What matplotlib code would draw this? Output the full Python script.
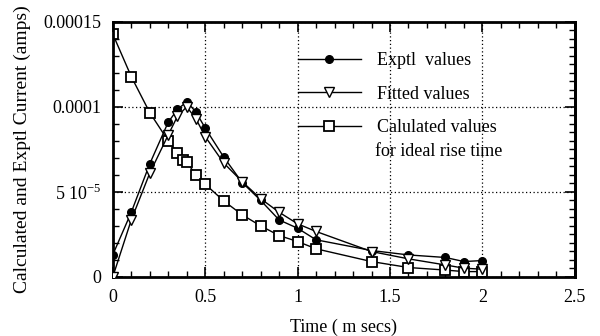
import matplotlib.pyplot as plt
from matplotlib.ticker import MultipleLocator, FixedLocator, FixedFormatter

plt.rcParams['font.family'] = ['Liberation Serif', 'DejaVu Serif']
plt.rcParams['mathtext.fontset'] = 'custom'
plt.rcParams['mathtext.rm'] = 'Liberation Serif'

# time (ms)
t_exptl = [0, 0.1, 0.2, 0.3, 0.35, 0.4, 0.45, 0.5, 0.6, 0.7, 0.8, 0.9, 1.0, 1.1, 1.4, 1.6, 1.8, 1.9, 2.0]
i_exptl = [1.3e-5, 3.8e-5, 6.65e-5, 9.1e-5, 9.85e-5, 1.03e-4, 9.7e-5, 8.75e-5, 7.05e-5, 5.55e-5,
           4.5e-5, 3.35e-5, 2.86e-5, 2.18e-5, 1.55e-5, 1.29e-5, 1.14e-5, 9.0e-6, 9.6e-6]

t_fitted = [0, 0.1, 0.2, 0.3, 0.35, 0.4, 0.45, 0.5, 0.6, 0.7, 0.8, 0.9, 1.0, 1.1, 1.4, 1.6, 1.8, 1.9, 2.0]
i_fitted = [0.0, 3.35e-5, 6.1e-5, 8.35e-5, 9.45e-5, 1.0e-4, 9.3e-5, 8.25e-5, 6.7e-5, 5.6e-5,
            4.6e-5, 3.8e-5, 3.12e-5, 2.67e-5, 1.49e-5, 1.06e-5, 7.0e-6, 5.1e-6, 4.5e-6]

t_calc = [0, 0.1, 0.2, 0.3, 0.35, 0.38, 0.4, 0.45, 0.5, 0.6, 0.7, 0.8, 0.9, 1.0, 1.1, 1.4, 1.6, 1.8, 1.9, 2.0]
i_calc = [1.428e-4, 1.178e-4, 9.66e-5, 8.0e-5, 7.27e-5, 6.9e-5, 6.75e-5, 6.0e-5, 5.45e-5, 4.47e-5,
          3.65e-5, 3.0e-5, 2.43e-5, 2.08e-5, 1.65e-5, 9.0e-6, 5.5e-6, 4.0e-6, 3.1e-6, 3.1e-6]

y_ticks = [0, 5e-5, 1e-4, 1.5e-4]
y_ticklabels = ['0', '5 10$^{\\mathregular{-5}}$', '0.0001', '0.00015']
x_ticks = [0, 0.5, 1, 1.5, 2, 2.5]
x_ticklabels = ['0', '0.5', '1', '1.5', '2', '2.5']

fig = plt.figure(figsize=(6, 3.36), dpi=100)
ax = fig.add_axes([0.188, 0.176, 0.77, 0.759])

ax.plot(t_exptl, i_exptl, color='black', lw=1, marker='o', ms=5.5,
        mfc='black', mec='black', label='Exptl  values', zorder=3)
ax.plot(t_fitted, i_fitted, color='black', lw=1, marker='v', ms=7.5,
        mfc='white', mec='black', mew=1, label='Fitted values', zorder=4)
ax.plot(t_calc, i_calc, color='black', lw=1, marker='s', ms=7.5,
        mfc='white', mec='black', mew=1.3, label='Calulated values', zorder=2)

ax.set_xlim(0, 2.5)
ax.set_ylim(0, 1.5e-4)
ax.set_xticks(x_ticks)
ax.set_xticklabels(x_ticklabels)
ax.xaxis.set_minor_locator(MultipleLocator(0.1))
ax.yaxis.set_major_locator(FixedLocator(y_ticks))
ax.yaxis.set_major_formatter(FixedFormatter(y_ticklabels))
ax.yaxis.set_minor_locator(MultipleLocator(1e-5))

ax.tick_params(which='both', direction='in', top=True, right=False, labelsize=13)
ax.tick_params(axis='x', pad=9)
ax.tick_params(axis='y', pad=8)
ax.tick_params(which='major', length=7, width=1.2)
ax.tick_params(which='minor', length=4.5, width=1)

# right side has finer ticks
sec = ax.secondary_yaxis('right')
sec.yaxis.set_major_locator(FixedLocator(y_ticks))
sec.yaxis.set_minor_locator(MultipleLocator(5e-6))
sec.tick_params(which='both', direction='in', labelright=False)
sec.tick_params(which='major', length=7, width=1.2)
sec.tick_params(which='minor', length=4.5, width=1)
sec.spines['right'].set_linewidth(2)

for s in ax.spines.values():
    s.set_linewidth(2)

ax.grid(True, which='major', linestyle=(0, (1, 2)), color='black', lw=0.9)

ax.set_xlabel('Time ( m secs)', fontsize=13, labelpad=9)
ax.set_ylabel('Calculated and Exptl Current (amps)', fontsize=14, labelpad=9)

ax.legend(loc='upper left', bbox_to_anchor=(0.40, 0.88), frameon=False,
          fontsize=13, handlelength=3.5, handletextpad=0.9, labelspacing=0.9,
          borderpad=0, borderaxespad=0)
ax.text(0.567, 0.49, 'for ideal rise time', transform=ax.transAxes,
        fontsize=13, ha='left', va='center')

fig.savefig('out.png', dpi=100)
